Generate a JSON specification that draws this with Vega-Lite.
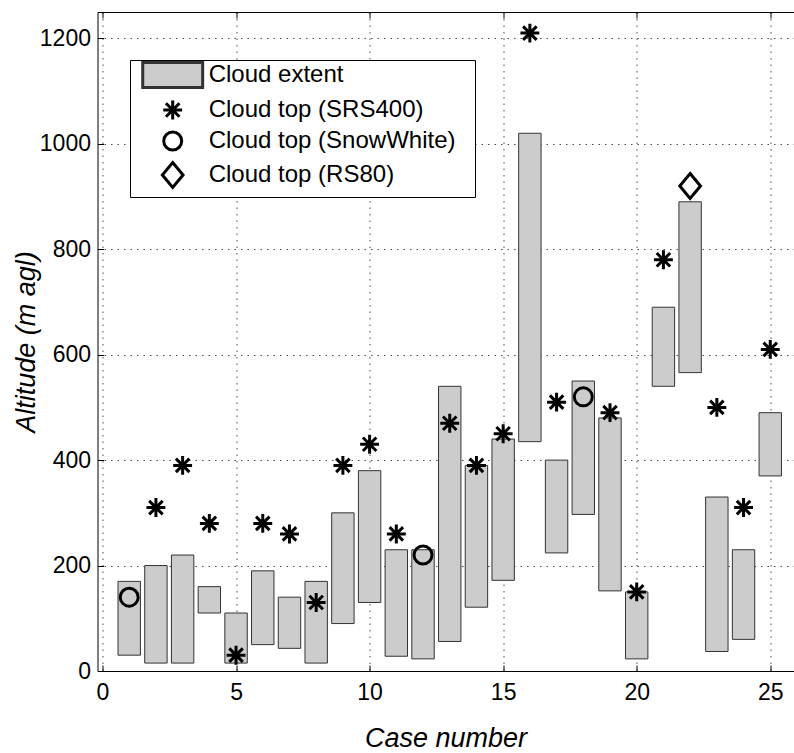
{
  "$schema": "https://vega.github.io/schema/vega-lite/v6.json",
  "width": 696,
  "height": 659,
  "autosize": "none",
  "padding": {"left": 97.5, "top": 12, "right": 0.5, "bottom": 82},
  "background": "white",
  "config": {
    "view": {"stroke": null},
    "font": "Liberation Sans",
    "axis": {
      "labelFont": "Liberation Sans",
      "labelFontSize": 23,
      "labelColor": "black",
      "titleFont": "Liberation Sans",
      "titleFontSize": 27,
      "titleFontStyle": "italic",
      "titleFontWeight": "normal",
      "titleColor": "black",
      "domainColor": "black",
      "domainWidth": 1,
      "tickColor": "black",
      "tickSize": -6,
      "tickWidth": 1,
      "gridColor": "#000000",
      "gridDash": [1.5, 5],
      "gridOpacity": 0.7,
      "gridWidth": 1,
      "format": "d"
    },
    "legend": {
      "orient": "none",
      "legendX": 32.5,
      "legendY": 48,
      "strokeColor": "black",
      "fillColor": "white",
      "padding": 3,
      "symbolSize": 324,
      "symbolOffset": 27.7,
      "labelOffset": 24,
      "labelFont": "Liberation Sans",
      "labelFontSize": 24,
      "labelColor": "black",
      "labelLimit": 500,
      "rowPadding": 0,
      "symbolStrokeWidth": 3,
      "titleOrient": "right",
      "titleFontSize": 24,
      "titlePadding": 17
    }
  },
  "datasets": {
    "extent": [
      {"case": 1, "bottom": 30, "top": 170, "series": "Cloud extent"},
      {"case": 2, "bottom": 15, "top": 200, "series": "Cloud extent"},
      {"case": 3, "bottom": 15, "top": 220, "series": "Cloud extent"},
      {"case": 4, "bottom": 110, "top": 160, "series": "Cloud extent"},
      {"case": 5, "bottom": 15, "top": 110, "series": "Cloud extent"},
      {"case": 6, "bottom": 50, "top": 190, "series": "Cloud extent"},
      {"case": 7, "bottom": 43, "top": 140, "series": "Cloud extent"},
      {"case": 8, "bottom": 15, "top": 170, "series": "Cloud extent"},
      {"case": 9, "bottom": 90, "top": 300, "series": "Cloud extent"},
      {"case": 10, "bottom": 130, "top": 380, "series": "Cloud extent"},
      {"case": 11, "bottom": 28, "top": 230, "series": "Cloud extent"},
      {"case": 12, "bottom": 23, "top": 230, "series": "Cloud extent"},
      {"case": 13, "bottom": 56, "top": 540, "series": "Cloud extent"},
      {"case": 14, "bottom": 121, "top": 390, "series": "Cloud extent"},
      {"case": 15, "bottom": 172, "top": 440, "series": "Cloud extent"},
      {"case": 16, "bottom": 435, "top": 1020, "series": "Cloud extent"},
      {"case": 17, "bottom": 224, "top": 400, "series": "Cloud extent"},
      {"case": 18, "bottom": 297, "top": 550, "series": "Cloud extent"},
      {"case": 19, "bottom": 152, "top": 480, "series": "Cloud extent"},
      {"case": 20, "bottom": 23, "top": 150, "series": "Cloud extent"},
      {"case": 21, "bottom": 540, "top": 690, "series": "Cloud extent"},
      {"case": 22, "bottom": 566, "top": 890, "series": "Cloud extent"},
      {"case": 23, "bottom": 37, "top": 330, "series": "Cloud extent"},
      {"case": 24, "bottom": 60, "top": 230, "series": "Cloud extent"},
      {"case": 25, "bottom": 370, "top": 490, "series": "Cloud extent"}
    ],
    "tops": [
      {"case": 1, "alt": 140, "series": "Cloud top (SnowWhite)"},
      {"case": 2, "alt": 310, "series": "Cloud top (SRS400)"},
      {"case": 3, "alt": 390, "series": "Cloud top (SRS400)"},
      {"case": 4, "alt": 280, "series": "Cloud top (SRS400)"},
      {"case": 5, "alt": 30, "series": "Cloud top (SRS400)"},
      {"case": 6, "alt": 280, "series": "Cloud top (SRS400)"},
      {"case": 7, "alt": 260, "series": "Cloud top (SRS400)"},
      {"case": 8, "alt": 130, "series": "Cloud top (SRS400)"},
      {"case": 9, "alt": 390, "series": "Cloud top (SRS400)"},
      {"case": 10, "alt": 430, "series": "Cloud top (SRS400)"},
      {"case": 11, "alt": 260, "series": "Cloud top (SRS400)"},
      {"case": 12, "alt": 220, "series": "Cloud top (SnowWhite)"},
      {"case": 13, "alt": 470, "series": "Cloud top (SRS400)"},
      {"case": 14, "alt": 390, "series": "Cloud top (SRS400)"},
      {"case": 15, "alt": 450, "series": "Cloud top (SRS400)"},
      {"case": 16, "alt": 1210, "series": "Cloud top (SRS400)"},
      {"case": 17, "alt": 510, "series": "Cloud top (SRS400)"},
      {"case": 18, "alt": 520, "series": "Cloud top (SnowWhite)"},
      {"case": 19, "alt": 490, "series": "Cloud top (SRS400)"},
      {"case": 20, "alt": 150, "series": "Cloud top (SRS400)"},
      {"case": 21, "alt": 780, "series": "Cloud top (SRS400)"},
      {"case": 22, "alt": 920, "series": "Cloud top (RS80)"},
      {"case": 23, "alt": 500, "series": "Cloud top (SRS400)"},
      {"case": 24, "alt": 310, "series": "Cloud top (SRS400)"},
      {"case": 25, "alt": 610, "series": "Cloud top (SRS400)"}
    ]
  },
  "layer": [
    {
      "data": {"name": "extent"},
      "mark": {"type": "bar", "size": 22.4, "stroke": "#333333", "strokeWidth": 1},
      "encoding": {
        "x": {
          "field": "case", "type": "quantitative",
          "scale": {"domain": [0, 25.683], "nice": false, "zero": false},
          "axis": {"title": "Case number", "values": [0, 5, 10, 15, 20, 25], "grid": true, "labelPadding": 16, "titlePadding": 21}
        },
        "y": {
          "field": "bottom", "type": "quantitative",
          "scale": {"domain": [0, 1250], "nice": false},
          "axis": {"title": "Altitude (m agl)", "values": [0, 200, 400, 600, 800, 1000, 1200], "grid": true, "labelPadding": 13, "titlePadding": -1}
        },
        "y2": {"field": "top"},
        "fill": {
          "field": "series", "type": "nominal",
          "scale": {"domain": ["Cloud extent", "Cloud top (SRS400)", "Cloud top (SnowWhite)", "Cloud top (RS80)"], "range": ["#cccccc", "transparent", "transparent", "transparent"]},
          "legend": {"title": " ", "encode": {"symbols": {"update": {"strokeWidth": {"signal": "datum.value === 'Cloud extent' ? 1 : 3"}, "strokeJoin": {"value": "round"}}}}}
        }
      }
    },
    {
      "data": {"name": "tops"},
      "mark": {"type": "point", "size": 324, "strokeWidth": 3, "filled": false, "opacity": 1},
      "encoding": {
        "x": {
          "field": "case", "type": "quantitative",
          "axis": {"orient": "top", "labels": false, "title": null, "grid": false, "values": [0, 5, 10, 15, 20, 25]}
        },
        "y": {"field": "alt", "type": "quantitative"},
        "shape": {
          "field": "series", "type": "nominal",
          "scale": {"domain": ["Cloud extent", "Cloud top (SRS400)", "Cloud top (SnowWhite)", "Cloud top (RS80)"], "range": ["M-3.33,-1.39L3.33,-1.39L3.33,1.39L-3.33,1.39Z", "M0,-1.05L0,1.05M-1.05,0L1.05,0M-0.75,-0.75L0.75,0.75M-0.75,0.75L0.75,-0.75", "circle", "M0,-1.38L1.15,0L0,1.38L-1.15,0Z"]},
          "legend": {"title": " ", "encode": {"symbols": {"update": {"strokeWidth": {"signal": "datum.value === 'Cloud extent' ? 1 : 3"}, "strokeJoin": {"value": "round"}}}}}
        },
        "stroke": {
          "field": "series", "type": "nominal",
          "scale": {"domain": ["Cloud extent", "Cloud top (SRS400)", "Cloud top (SnowWhite)", "Cloud top (RS80)"], "range": ["#333333", "#000000", "#000000", "#000000"]},
          "legend": {"title": " ", "encode": {"symbols": {"update": {"strokeWidth": {"signal": "datum.value === 'Cloud extent' ? 1 : 3"}, "strokeJoin": {"value": "round"}}}}}
        },
        "fill": {
          "field": "series", "type": "nominal",
          "legend": {"title": " ", "encode": {"symbols": {"update": {"strokeWidth": {"signal": "datum.value === 'Cloud extent' ? 1 : 3"}, "strokeJoin": {"value": "round"}}}}}
        }
      }
    }
  ],
  "resolve": {"axis": {"x": "independent"}}
}
